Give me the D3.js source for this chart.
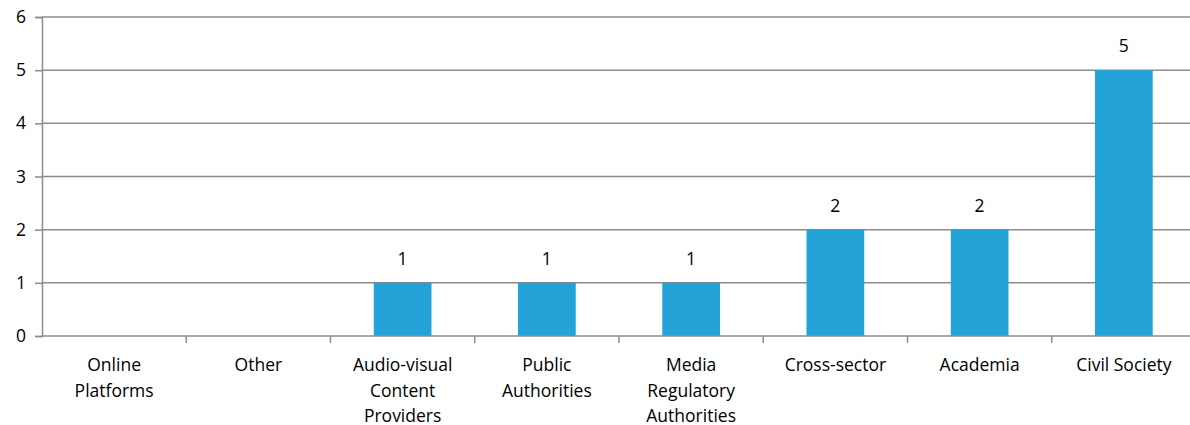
<!DOCTYPE html>
<html><head><meta charset="utf-8">
<script src="https://cdn.jsdelivr.net/npm/d3@7"></script>
<style>body{margin:0;background:#fff}svg{display:block}text{font-family:"Open Sans",sans-serif;fill:#000}</style>
</head><body><svg id="c" width="1190" height="425"></svg>
<script>
const categories = [["Online","Platforms"],["Other"],["Audio-visual","Content","Providers"],["Public","Authorities"],["Media","Regulatory","Authorities"],["Cross-sector"],["Academia"],["Civil Society"]];
const values = [0,0,1,1,1,2,2,5];
const yTicks = [0,1,2,3,4,5,6];

(function(){
const svg = d3.select("#c");
const W = 1190;
const mLeft = 42, mRight = 1196, mTop = 17, mBottom = 336;
const x = d3.scaleBand().domain(d3.range(categories.length)).range([mLeft, mRight]).paddingInner(0.6).paddingOuter(0.3);
const y = d3.scaleLinear().domain([0,6]).range([mBottom, mTop]);
const step = x.step();
const fs = 17.5;

svg.append("g").selectAll("line").data(yTicks.filter(d=>d>0)).join("line")
  .attr("x1", mLeft).attr("x2", W).attr("y1", d=>y(d)).attr("y2", d=>y(d))
  .attr("stroke", "#8c8c8c").attr("stroke-width", 1.5);

const ya = svg.append("g").attr("transform", `translate(${mLeft},0)`)
  .call(d3.axisLeft(y).tickValues(yTicks).tickSize(7).tickPadding(9).tickFormat(d3.format("d")));
ya.select(".domain").attr("stroke", "#8c8c8c").attr("stroke-width", 1.5);
ya.selectAll(".tick line").attr("stroke", "#8c8c8c").attr("stroke-width", 1.5);
ya.selectAll(".tick text").style("font-family", '"Open Sans",sans-serif').style("font-size", fs + "px").attr("fill", "#000");

svg.append("g").selectAll("rect").data(values).join("rect")
  .attr("x", (d,i)=>x(i)).attr("width", x.bandwidth())
  .attr("y", d=>y(d)).attr("height", d=>y(0)-y(d))
  .attr("fill", "#23a3d7");

svg.append("line").attr("x1", mLeft).attr("x2", W).attr("y1", y(0)).attr("y2", y(0))
  .attr("stroke", "#8c8c8c").attr("stroke-width", 1.5);
svg.append("g").selectAll("line").data(d3.range(1, categories.length)).join("line")
  .attr("x1", i=>mLeft + i*step).attr("x2", i=>mLeft + i*step)
  .attr("y1", y(0)).attr("y2", y(0)+7)
  .attr("stroke", "#8c8c8c").attr("stroke-width", 1.5);

const lab = svg.append("g").selectAll("text").data(categories).join("text")
  .attr("text-anchor", "middle").style("font-size", fs + "px")
  .attr("x", (d,i)=>x(i)+x.bandwidth()/2).attr("y", y(0)+35);
lab.selectAll("tspan").data(d=>d).join("tspan")
  .attr("x", function(){return this.parentNode.getAttribute("x");})
  .attr("dy", (d,j)=>j===0?0:25.5).text(d=>d);

svg.append("g").selectAll("text").data(values.map((v,i)=>({v,i})).filter(d=>d.v>0)).join("text")
  .attr("text-anchor", "middle").style("font-size", fs + "px")
  .attr("x", d=>x(d.i)+x.bandwidth()/2).attr("y", d=>y(d.v)-18).text(d=>d.v);
})();
</script></body></html>
